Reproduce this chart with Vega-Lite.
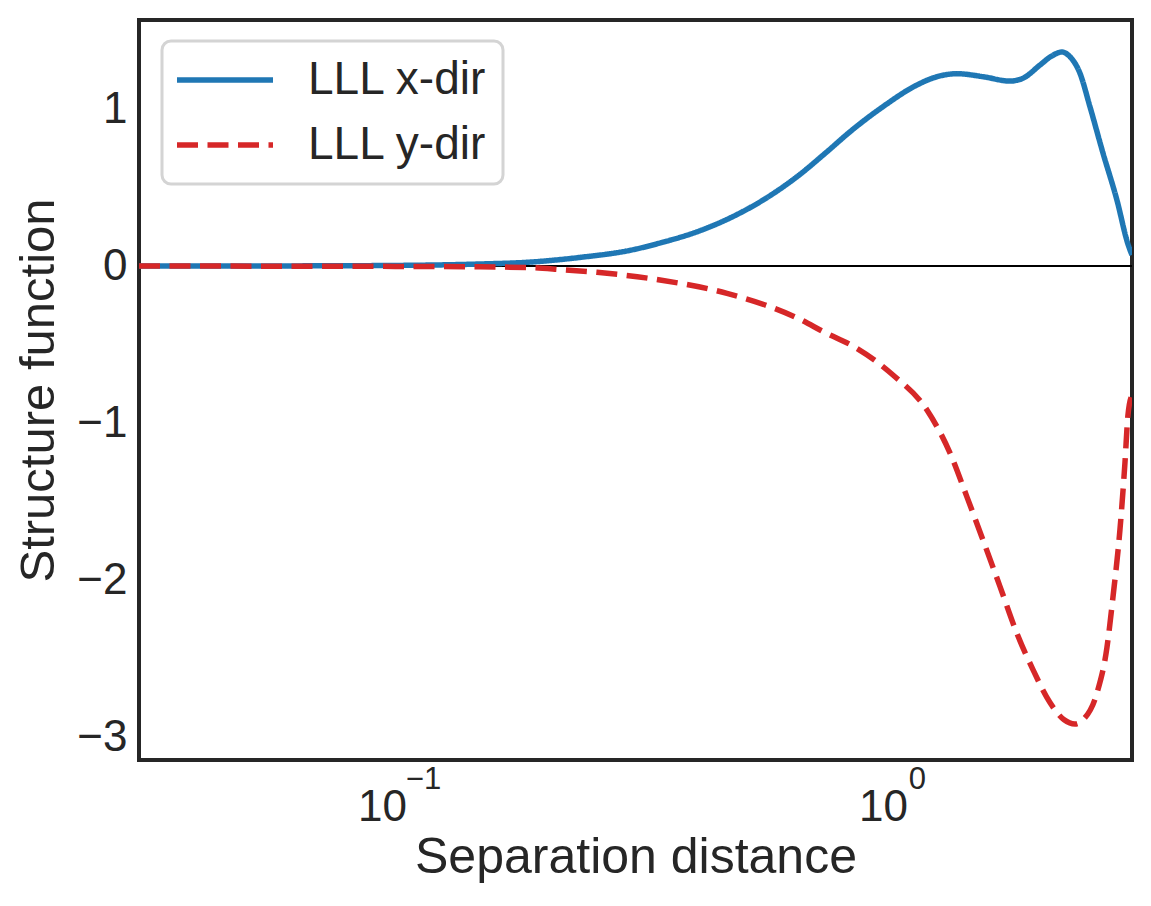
{
  "$schema": "https://vega.github.io/schema/vega-lite/v6.json",
  "width": 993,
  "height": 740,
  "autosize": {"type": "none"},
  "padding": {"left": 139, "top": 20, "right": 19, "bottom": 146},
  "background": "white",
  "config": {
    "font": "Liberation Sans",
    "view": {"stroke": "#262626", "strokeWidth": 4},
    "axis": {"grid": false, "ticks": false, "domain": false, "labelColor": "#262626", "titleColor": "#262626", "titleFontWeight": "normal"},
    "legend": {
      "orient": "none", "legendX": 23, "legendY": 21,
      "symbolType": "M-2,0H6", "symbolSize": 576, "symbolStrokeWidth": 5.5,
      "labelFontSize": 46, "labelColor": "#262626", "labelOffset": 84, "labelLimit": 0,
      "rowPadding": 19, "padding": 16,
      "strokeColor": "#d4d4d4", "strokeWidth": 3, "fillColor": "white", "cornerRadius": 9
    }
  },
  "data": {"values": [
    {"x": 0.02948, "y": 0, "series": "LLL x-dir"},
    {"x": 0.03918, "y": 0, "series": "LLL x-dir"},
    {"x": 0.06244, "y": 0.001, "series": "LLL x-dir"},
    {"x": 0.09954, "y": 0.004, "series": "LLL x-dir"},
    {"x": 0.1445, "y": 0.013, "series": "LLL x-dir"},
    {"x": 0.1824, "y": 0.025, "series": "LLL x-dir"},
    {"x": 0.2303, "y": 0.055, "series": "LLL x-dir"},
    {"x": 0.2908, "y": 0.1, "series": "LLL x-dir"},
    {"x": 0.3392, "y": 0.152, "series": "LLL x-dir"},
    {"x": 0.3973, "y": 0.218, "series": "LLL x-dir"},
    {"x": 0.4634, "y": 0.306, "series": "LLL x-dir"},
    {"x": 0.5405, "y": 0.42, "series": "LLL x-dir"},
    {"x": 0.6334, "y": 0.569, "series": "LLL x-dir"},
    {"x": 0.7284, "y": 0.728, "series": "LLL x-dir"},
    {"x": 0.8108, "y": 0.855, "series": "LLL x-dir"},
    {"x": 0.9456, "y": 1.015, "series": "LLL x-dir"},
    {"x": 1.1079, "y": 1.153, "series": "LLL x-dir"},
    {"x": 1.2, "y": 1.2, "series": "LLL x-dir"},
    {"x": 1.3349, "y": 1.225, "series": "LLL x-dir"},
    {"x": 1.5072, "y": 1.206, "series": "LLL x-dir"},
    {"x": 1.709, "y": 1.178, "series": "LLL x-dir"},
    {"x": 1.8158, "y": 1.196, "series": "LLL x-dir"},
    {"x": 1.9656, "y": 1.28, "series": "LLL x-dir"},
    {"x": 2.07, "y": 1.335, "series": "LLL x-dir"},
    {"x": 2.178, "y": 1.363, "series": "LLL x-dir"},
    {"x": 2.2613, "y": 1.333, "series": "LLL x-dir"},
    {"x": 2.3693, "y": 1.227, "series": "LLL x-dir"},
    {"x": 2.4815, "y": 1.015, "series": "LLL x-dir"},
    {"x": 2.6369, "y": 0.72, "series": "LLL x-dir"},
    {"x": 2.8143, "y": 0.42, "series": "LLL x-dir"},
    {"x": 2.9625, "y": 0.14, "series": "LLL x-dir"},
    {"x": 3.019, "y": 0.07, "series": "LLL x-dir"},
    {"x": 0.02948, "y": 0, "series": "LLL y-dir"},
    {"x": 0.0907, "y": -0.002, "series": "LLL y-dir"},
    {"x": 0.1445, "y": -0.005, "series": "LLL y-dir"},
    {"x": 0.1824, "y": -0.01, "series": "LLL y-dir"},
    {"x": 0.2099, "y": -0.022, "series": "LLL y-dir"},
    {"x": 0.2493, "y": -0.04, "series": "LLL y-dir"},
    {"x": 0.3344, "y": -0.089, "series": "LLL y-dir"},
    {"x": 0.457, "y": -0.174, "series": "LLL y-dir"},
    {"x": 0.6334, "y": -0.33, "series": "LLL y-dir"},
    {"x": 0.7284, "y": -0.43, "series": "LLL y-dir"},
    {"x": 0.8222, "y": -0.51, "series": "LLL y-dir"},
    {"x": 0.9908, "y": -0.694, "series": "LLL y-dir"},
    {"x": 1.1608, "y": -0.917, "series": "LLL y-dir"},
    {"x": 1.2922, "y": -1.19, "series": "LLL y-dir"},
    {"x": 1.3985, "y": -1.47, "series": "LLL y-dir"},
    {"x": 1.5072, "y": -1.745, "series": "LLL y-dir"},
    {"x": 1.6312, "y": -2.04, "series": "LLL y-dir"},
    {"x": 1.766, "y": -2.34, "series": "LLL y-dir"},
    {"x": 1.9026, "y": -2.57, "series": "LLL y-dir"},
    {"x": 2.0595, "y": -2.78, "series": "LLL y-dir"},
    {"x": 2.2, "y": -2.89, "series": "LLL y-dir"},
    {"x": 2.314, "y": -2.917, "series": "LLL y-dir"},
    {"x": 2.4027, "y": -2.89, "series": "LLL y-dir"},
    {"x": 2.5637, "y": -2.72, "series": "LLL y-dir"},
    {"x": 2.686, "y": -2.43, "series": "LLL y-dir"},
    {"x": 2.7623, "y": -2.11, "series": "LLL y-dir"},
    {"x": 2.854, "y": -1.68, "series": "LLL y-dir"},
    {"x": 2.9212, "y": -1.255, "series": "LLL y-dir"},
    {"x": 2.9625, "y": -0.95, "series": "LLL y-dir"},
    {"x": 3.019, "y": -0.82, "series": "LLL y-dir"}
  ]},
  "resolve": {"axis": {"x": "independent"}},
  "layer": [
    {
      "mark": {"type": "rule", "color": "black", "strokeWidth": 2},
      "encoding": {"y": {"datum": 0, "type": "quantitative"}}
    },
    {
      "transform": [{"filter": "datum.series == 'LLL x-dir'"}],
      "mark": {"type": "line", "strokeWidth": 5.5, "interpolate": "monotone", "clip": true, "strokeCap": "butt"},
      "encoding": {
        "x": {"field": "x", "type": "quantitative",
          "scale": {"type": "log", "domain": [0.02948, 3.019], "nice": false},
          "axis": {"orient": "bottom", "values": [0.1, 1], "labelExpr": "'10'", "labelFontSize": 44,
            "labelBaseline": "alphabetic", "labelPadding": 60,
            "labelOffset": {"condition": {"test": "datum.value < 0.5", "value": -19}, "value": -12},
            "title": "Separation distance", "titleFontSize": 50, "titleBaseline": "alphabetic", "titleY": 112}},
        "y": {"field": "y", "type": "quantitative",
          "scale": {"domain": [-3.146, 1.567], "nice": false, "zero": false},
          "axis": {"values": [-3, -2, -1, 0, 1], "format": "d", "labelFontSize": 44, "labelPadding": 12,
            "title": "Structure function", "titleFontSize": 49, "titleBaseline": "alphabetic", "titleAngle": -90, "titleX": -86, "titleY": 370, "titleAlign": "center"}},
        "color": {"field": "series", "type": "nominal", "title": null,
          "scale": {"domain": ["LLL x-dir", "LLL y-dir"], "range": ["#1f77b4", "#d62728"]}},
        "strokeDash": {"field": "series", "type": "nominal", "title": null,
          "scale": {"domain": ["LLL x-dir", "LLL y-dir"], "range": [[1, 0], [21, 9.5]]}}
      }
    },
    {
      "transform": [{"filter": "datum.series == 'LLL y-dir'"}],
      "mark": {"type": "line", "strokeWidth": 5.5, "interpolate": "monotone", "clip": true, "strokeCap": "butt"},
      "encoding": {
        "x": {"field": "x", "type": "quantitative",
          "axis": {"orient": "bottom", "values": [0.1, 1], "labelExpr": "datum.value < 0.5 ? '−1' : '0'", "labelFontSize": 31,
            "labelBaseline": "alphabetic", "labelPadding": 28, "labelOffset": 22, "title": null}},
        "y": {"field": "y", "type": "quantitative"},
        "color": {"field": "series", "type": "nominal", "title": null},
        "strokeDash": {"field": "series", "type": "nominal", "title": null}
      }
    }
  ]
}
